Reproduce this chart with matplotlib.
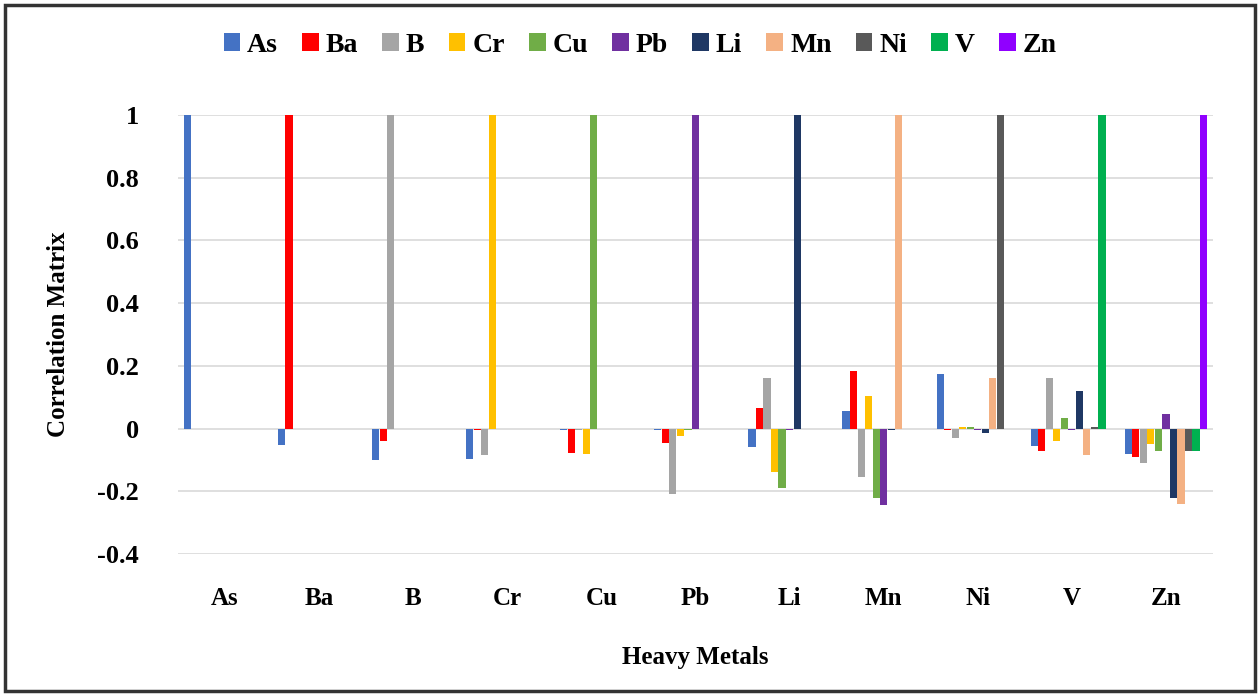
import matplotlib
matplotlib.use("Agg")
import matplotlib.pyplot as plt
from matplotlib.patches import Rectangle
import numpy as np

metals = ["As", "Ba", "B", "Cr", "Cu", "Pb", "Li", "Mn", "Ni", "V", "Zn"]
colors = ["#4472C4", "#FF0000", "#A5A5A5", "#FFC000", "#70AD47", "#7030A0",
          "#1F3864", "#F4B183", "#595959", "#00B050", "#9000FF"]

# lower-triangular correlation values: row = category group, entries = series As..(self)
row_As = [1.0]
row_Ba = [-0.053, 1.0]
row_B = [-0.10, -0.04, 1.0]
row_Cr = [-0.098, -0.004, -0.085, 1.0]
row_Cu = [-0.004, -0.077, -0.004, -0.082, 1.0]
row_Pb = [-0.004, -0.047, -0.21, -0.025, -0.003, 1.0]
row_Li = [-0.06, 0.065, 0.16, -0.14, -0.19, -0.003, 1.0]
row_Mn = [0.055, 0.185, -0.155, 0.105, -0.22, -0.245, -0.003, 1.0]
row_Ni = [0.175, -0.004, -0.03, 0.004, 0.004, -0.005, -0.015, 0.16, 1.0]
row_V = [-0.055, -0.07, 0.16, -0.04, 0.035, -0.003, 0.12, -0.085, 0.004, 1.0]
row_Zn = [-0.08, -0.09, -0.11, -0.05, -0.07, 0.045, -0.22, -0.24, -0.07, -0.07, 1.0]
rows = [row_As, row_Ba, row_B, row_Cr, row_Cu, row_Pb, row_Li, row_Mn, row_Ni, row_V, row_Zn]

yticks = [-0.4, -0.2, 0, 0.2, 0.4, 0.6, 0.8, 1]
ytick_labels = ["-0.4", "-0.2", "0", "0.2", "0.4", "0.6", "0.8", "1"]

plt.rcParams['font.family'] = ['Liberation Serif', 'DejaVu Serif']
plt.rcParams['font.weight'] = 'bold'

fig = plt.figure(figsize=(12.6, 6.96), dpi=100)
ax = fig.add_axes([178/1260, 1 - 554/696, (1213-178)/1260, (554-115)/696])

n = len(metals)
slot = 0.08
x = np.arange(n)
for s in range(n):
    xs, vals = [], []
    for g in range(n):
        if s < len(rows[g]):
            xs.append(g - (n / 2) * slot + (s + 0.5) * slot)
            vals.append(rows[g][s])
    ax.bar(xs, vals, width=slot * 0.95, color=colors[s], label=metals[s], zorder=3)

ax.set_xlim(-0.5, n - 0.5)
ax.set_ylim(-0.4, 1.0)
ax.set_yticks(yticks)
ax.set_yticklabels(ytick_labels, fontsize=19, fontweight='bold')
ax.set_xticks(x)
ax.set_xticklabels(metals, fontsize=18, fontweight='bold')
ax.tick_params(length=0)
ax.tick_params(axis='x', pad=24)
ax.tick_params(axis='y', pad=28)
ax.grid(axis='y', color='#D9D9D9', linewidth=1.2, zorder=0)
for sp in ax.spines.values():
    sp.set_visible(False)
ax.set_axisbelow(True)

ax.set_ylabel("Correlation Matrix", fontsize=18, fontweight='bold', labelpad=20)
ax.set_xlabel("Heavy Metals", fontsize=18, fontweight='bold', labelpad=26)

leg = fig.legend(loc='center', bbox_to_anchor=(0.508, 1 - 45/696), ncol=11, frameon=False,
                 handlelength=0.6, handleheight=0.6, handletextpad=0.25,
                 columnspacing=0.87, prop={'weight': 'bold', 'size': 20})

fig.patches.append(Rectangle((5/1260, 5/696), 1 - 10/1260, 1 - 10/696,
                             transform=fig.transFigure, fill=False,
                             edgecolor='#333333', linewidth=2.5))

fig.savefig("out.png", dpi=100)
